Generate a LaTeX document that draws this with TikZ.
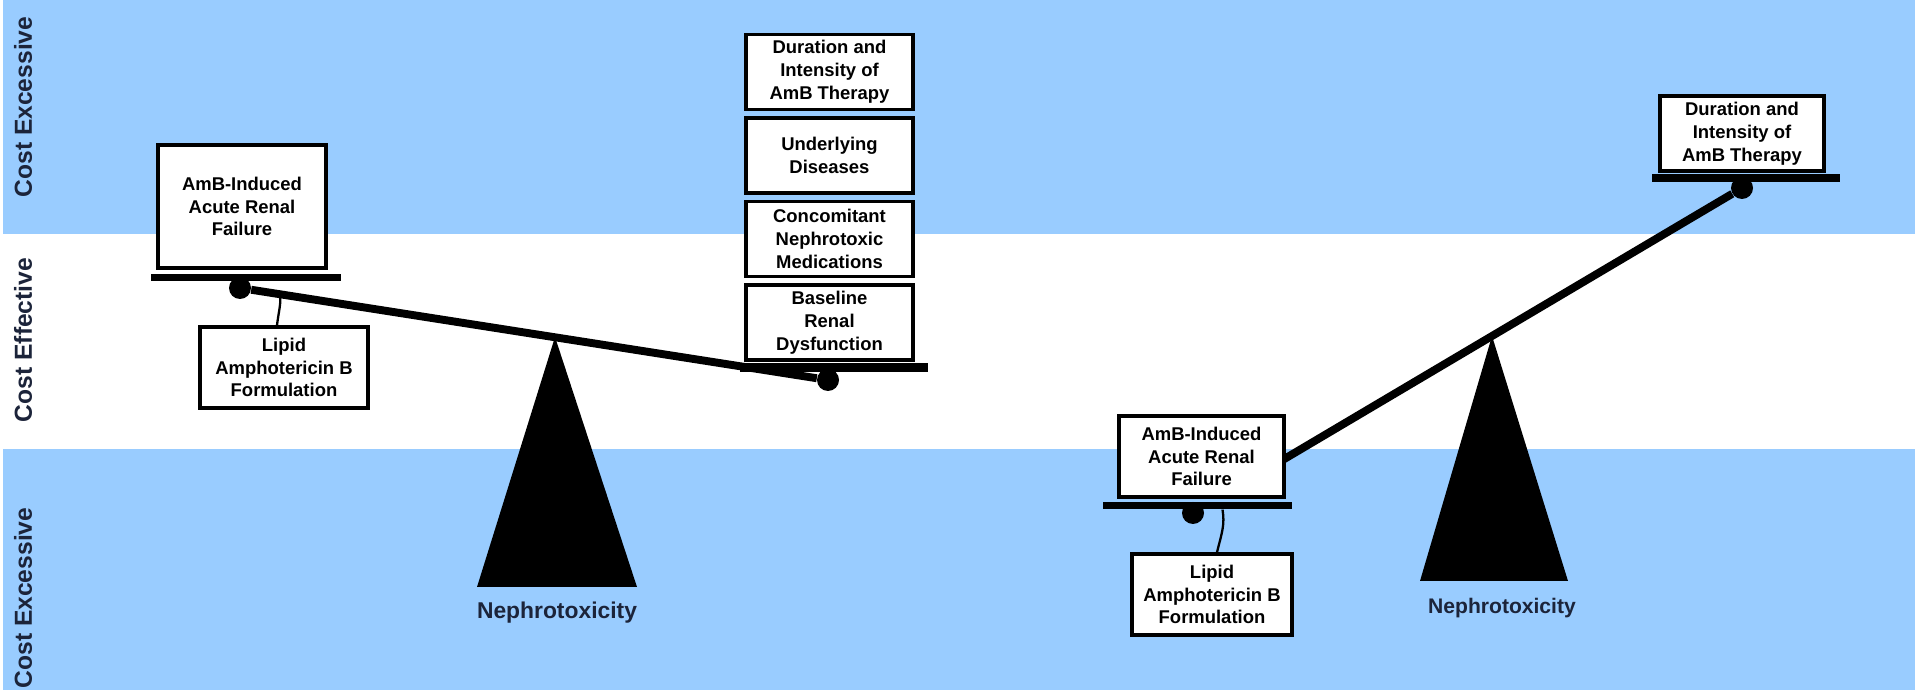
\documentclass[tikz,border=0pt]{standalone}
\usepackage{fontspec}
\setmainfont{Liberation Sans}
\usepackage{tikz}
\usetikzlibrary{positioning}
\usepackage{xcolor}
\definecolor{bandblue}{RGB}{153,204,255}
\definecolor{inknavy}{RGB}{28,36,58}

\begin{document}
\begin{tikzpicture}[
  box/.style={draw,fill=white,line width=2pt,align=center,inner sep=0pt,
    minimum width=3.34cm,minimum height=1.5cm,
    font=\bfseries\fontsize{10.5}{13}\selectfont},
  platform/.style={fill=black,inner sep=0pt,minimum width=3.8cm,
    minimum height=0.15cm},
  pivot/.style={circle,fill=black,inner sep=0pt,minimum size=0.44cm},
  beam/.style={line width=4.5pt},
  tie/.style={line width=1.3pt},
  fulcrum/.style={fill=black},
  zone/.style={rotate=90,text=inknavy,
    font=\bfseries\fontsize{14}{16}\selectfont},
  weight/.style={text=inknavy,font=\bfseries\fontsize{13}{15}\selectfont}
]
  \useasboundingbox (0,0) rectangle (38.3,13.8);
  \fill[white] (0,0) rectangle (38.3,13.8);
  \fill[bandblue] (0.06,9.12) rectangle (38.3,13.8);
  \fill[bandblue] (0.06,0) rectangle (38.3,4.82);

  \node[zone] (zonetop) at (0.46,11.66) {Cost Excessive};
  \node[zone] (zonemid) at (0.46,7.0) {Cost Effective};
  \node[zone] (zonelow) at (0.46,1.84) {Cost Excessive};

  % left scale
  \fill[fulcrum] (9.54,2.06) -- (11.1,7.06) -- (12.74,2.06) -- cycle;
  \node[weight] (nephro) at (11.14,1.54) {Nephrotoxicity};
  \node[platform] (lbar) at (4.92,8.25) {};
  \node[pivot] (ldot) at (4.8,8.04) {};
  \node[platform,minimum width=3.76cm,minimum height=0.18cm] (rbar)
    at (16.68,6.45) {};
  \node[pivot] (rdot) at (16.56,6.2) {};
  \draw[beam] (ldot) -- (rdot);

  \node[box,minimum width=3.36cm,minimum height=2.46cm] (amb) at (4.84,9.67)
    {AmB-Induced\\Acute Renal\\Failure};
  \node[box,minimum width=3.36cm,minimum height=1.62cm] (lipid)
    at (5.68,6.45) {Lipid\\Amphotericin B\\Formulation};
  \coordinate (lhook) at (5.52,7.98);
  \draw[tie] ([xshift=-0.14cm]lipid.north) .. controls +(0.05,0.4)
    and +(0.15,-0.1) .. (lhook);

  \node[box] (base) at (16.59,7.35) {Baseline\\Renal\\Dysfunction};
  \node[box,above=0.1cm of base] (meds)
    {Concomitant\\Nephrotoxic\\Medications};
  \node[box,above=0.1cm of meds] (disease) {Underlying\\Diseases};
  \node[box,above=0.1cm of disease] (therapy)
    {Duration and\\Intensity of\\AmB Therapy};

  % right scale
  \fill[fulcrum] (28.4,2.18) -- (29.84,7.08) -- (31.36,2.18) -- cycle;
  \node[weight,font=\bfseries\fontsize{12}{14}\selectfont] (nephro2)
    at (30.04,1.64) {Nephrotoxicity};
  \node[platform,minimum width=3.78cm] (lbar2) at (23.95,3.69) {};
  \node[pivot] (ldot2) at (23.86,3.54) {};
  \node[platform,minimum width=3.76cm] (rbar2) at (34.92,10.24) {};
  \node[pivot] (rdot2) at (34.84,10.04) {};
  \coordinate (lend2) at (25.5,4.51);
  \draw[beam] (lend2) -- (rdot2);

  \node[box,minimum width=3.3cm,minimum height=1.62cm] (amb2)
    at (24.03,4.67) {AmB-Induced\\Acute Renal\\Failure};
  \node[box,minimum width=3.2cm,minimum height=1.62cm] (lipid2)
    at (24.24,1.91) {Lipid\\Amphotericin B\\Formulation};
  \draw[tie] ([xshift=0.1cm]lipid2.north) .. controls +(0.1,0.4)
    and +(0.05,-0.3) .. ([xshift=0.5cm]lbar2.south);
  \node[box,minimum width=3.28cm] (therapy2) at (34.84,11.13)
    {Duration and\\Intensity of\\AmB Therapy};
\end{tikzpicture}
\end{document}
